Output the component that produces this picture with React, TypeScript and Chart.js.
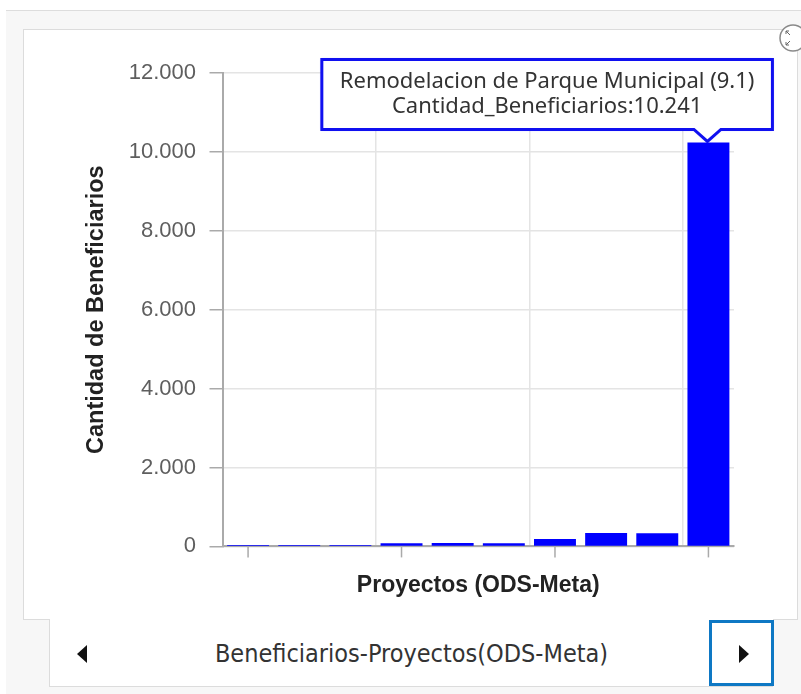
import React, { useEffect, useRef } from 'react';
import { Chart, registerables } from 'chart.js';

Chart.register(...registerables);

// ---- data ----
const projects = [
  'Proyecto 1',
  'Proyecto 2',
  'Proyecto 3',
  'Proyecto 4',
  'Proyecto 5',
  'Proyecto 6',
  'Proyecto 7',
  'Proyecto 8',
  'Proyecto 9',
  'Remodelacion de Parque Municipal (9.1)',
];
const beneficiarios = [38, 35, 38, 82, 84, 80, 185, 340, 336, 10241];
const yTickLabels = ['0', '2.000', '4.000', '6.000', '8.000', '10.000', '12.000'];
const yAxisTitle = 'Cantidad de Beneficiarios';
const xAxisTitle = 'Proyectos (ODS-Meta)';
const seriesName = 'Cantidad_Beneficiarios';
const highlightedIndex = 9;
const footerTitle = 'Beneficiarios-Proyectos(ODS-Meta)';
const xTickEvery = 3;

const formatNumber = (n: number) => String(n).replace(/\B(?=(\d{3})+(?!\d))/g, '.');

const xTickMarks = {
  id: 'xTickMarks',
  afterDraw(chart: any) {
    const x = chart.scales.x;
    const ctx = chart.ctx;
    ctx.save();
    ctx.strokeStyle = '#aaaaaa';
    ctx.lineWidth = 1.5;
    for (let i = 0; i < projects.length; i += xTickEvery) {
      const px = x.getPixelForValue(i);
      ctx.beginPath();
      ctx.moveTo(px, x.top);
      ctx.lineTo(px, x.top + 11);
      ctx.stroke();
    }
    ctx.restore();
  },
};

const calloutTooltip = {
  id: 'calloutTooltip',
  afterDraw(chart: any) {
    const meta = chart.getDatasetMeta(0);
    const bar = meta.data[highlightedIndex];
    if (!bar) return;
    const ctx = chart.ctx;
    const line1 = projects[highlightedIndex];
    const line2 = seriesName + ':' + formatNumber(beneficiarios[highlightedIndex]);
    ctx.save();
    ctx.font = '22px "Noto Sans", sans-serif';
    const tw = Math.max(ctx.measureText(line1).width, ctx.measureText(line2).width);
    const ax = bar.x - 1;
    const ay = bar.y - 1;
    const right = ax + 65;
    const left = right - (tw + 36);
    const bottom = ay - 12;
    const top = bottom - 70;
    const ph = 13.5;
    ctx.beginPath();
    ctx.moveTo(left, top);
    ctx.lineTo(right, top);
    ctx.lineTo(right, bottom);
    ctx.lineTo(ax + ph, bottom);
    ctx.lineTo(ax, ay);
    ctx.lineTo(ax - ph, bottom);
    ctx.lineTo(left, bottom);
    ctx.closePath();
    ctx.fillStyle = '#ffffff';
    ctx.shadowColor = 'rgba(0,0,255,0.35)';
    ctx.shadowBlur = 3;
    ctx.fill();
    ctx.shadowBlur = 0;
    ctx.lineWidth = 3;
    ctx.lineJoin = 'miter';
    ctx.strokeStyle = '#1010f0';
    ctx.stroke();
    ctx.fillStyle = '#333333';
    ctx.textAlign = 'center';
    ctx.textBaseline = 'middle';
    const cx = (left + right) / 2;
    ctx.fillText(line1, cx, top + 22);
    ctx.fillText(line2, cx, top + 47);
    ctx.restore();
  },
};

function BarChart() {
  const ref = useRef<HTMLCanvasElement | null>(null);
  useEffect(() => {
    if (!ref.current) return;
    const chart = new Chart(ref.current, {
      type: 'bar',
      data: {
        labels: projects,
        datasets: [
          {
            label: seriesName,
            data: beneficiarios,
            backgroundColor: '#0000ff',
            borderWidth: 0,
            categoryPercentage: 1,
            barPercentage: 0.82,
          },
        ],
      },
      options: {
        animation: false,
        responsive: true,
        maintainAspectRatio: false,
        layout: { padding: { left: 0, right: 63, top: 43, bottom: 16 } },
        plugins: { legend: { display: false }, tooltip: { enabled: false } },
        scales: {
          x: {
            grid: {
              offset: true,
              color: (c: any) =>
                c.index !== undefined && c.index > 0 && c.index % xTickEvery === 0 ? '#e4e4e4' : 'transparent',
              lineWidth: 1.5,
              drawTicks: true,
              tickLength: 10,
              tickColor: 'transparent',
            },
            border: { color: '#aaaaaa', width: 2 },
            ticks: { display: false },
            title: {
              display: true,
              text: xAxisTitle,
              color: '#222',
              font: { family: '"Liberation Sans", Arial, sans-serif', size: 23, weight: 'bold', lineHeight: 1.2 },
              padding: { top: 15, bottom: 4 },
            },
          },
          y: {
            min: 0,
            max: 12000,
            afterFit: (s: any) => {
              s.width = 198.5;
            },
            ticks: {
              stepSize: 2000,
              padding: 13.5,
              color: '#5e5e5e',
              font: { family: '"Liberation Sans", Arial, sans-serif', size: 22 },
              callback: (_v: any, i: number) => yTickLabels[i],
            },
            grid: {
              color: '#e4e4e4',
              lineWidth: 1.5,
              tickColor: '#aaaaaa',
              tickLength: 13,
            },
            border: { color: '#aaaaaa', width: 2 },
            title: {
              display: true,
              text: yAxisTitle,
              color: '#222',
              font: { family: '"Liberation Sans", Arial, sans-serif', size: 23.5, weight: 'bold', lineHeight: 1.2 },
              padding: { top: 58, bottom: 0 },
            },
          },
        },
      },
      plugins: [xTickMarks, calloutTooltip],
    });
    return () => chart.destroy();
  }, []);
  return <canvas ref={ref} />;
}

export default function App() {
  return (
    <div style={{ position: 'absolute', left: 0, top: 0, width: 801, height: 694, background: '#fff', overflow: 'hidden' }}>
      <div
        style={{
          position: 'absolute',
          left: 6,
          top: 10,
          width: 800,
          height: 690,
          background: '#f7f7f7',
          borderTop: '1px solid #dddddd',
        }}
      />
      <div
        style={{
          position: 'absolute',
          left: 23,
          top: 29,
          width: 775,
          height: 591,
          background: '#fff',
          border: '1px solid #dcdcdc',
          boxSizing: 'border-box',
        }}
      />
      <div style={{ position: 'absolute', left: 24, top: 30, width: 773, height: 589 }}>
        <BarChart />
      </div>
      <div
        style={{
          position: 'absolute',
          left: 49,
          top: 619,
          width: 724,
          height: 68,
          background: '#fff',
          borderLeft: '1px solid #dcdcdc',
          borderBottom: '1px solid #dcdcdc',
          boxSizing: 'border-box',
        }}
      >
        <div
          style={{
            position: 'absolute',
            left: 0,
            right: 0,
            top: 21,
            textAlign: 'center',
            fontFamily: '"Liberation Sans Narrow", "DejaVu Sans Condensed", sans-serif',
            fontSize: 25,
            lineHeight: '28px',
            color: '#333',
            whiteSpace: 'nowrap',
          }}
        >
          {footerTitle}
        </div>
      </div>
      <div
        style={{
          position: 'absolute',
          left: 77,
          top: 645,
          width: 0,
          height: 0,
          borderTop: '9px solid transparent',
          borderBottom: '9px solid transparent',
          borderRight: '10px solid #111',
        }}
      />
      <div
        style={{
          position: 'absolute',
          left: 709,
          top: 620,
          width: 65,
          height: 66,
          border: '3px solid #0e78c4',
          background: '#fff',
          boxSizing: 'border-box',
        }}
      >
        <div
          style={{
            position: 'absolute',
            left: 27,
            top: 22,
            width: 0,
            height: 0,
            borderTop: '9px solid transparent',
            borderBottom: '9px solid transparent',
            borderLeft: '10px solid #111',
          }}
        />
      </div>
      <svg style={{ position: 'absolute', left: 776, top: 22, overflow: 'visible' }} width={34} height={34}>
        <circle cx={17} cy={16} r={13} fill="#fff" stroke="#8a8a8a" strokeWidth={1.5} />
        <path d="M10 9 L14 13 M10 9 L10 12 M10 9 L13 9 M10 23 L14 19 M10 23 L10 20 M10 23 L13 23" stroke="#666" strokeWidth={1} fill="none" />
      </svg>
    </div>
  );
}
